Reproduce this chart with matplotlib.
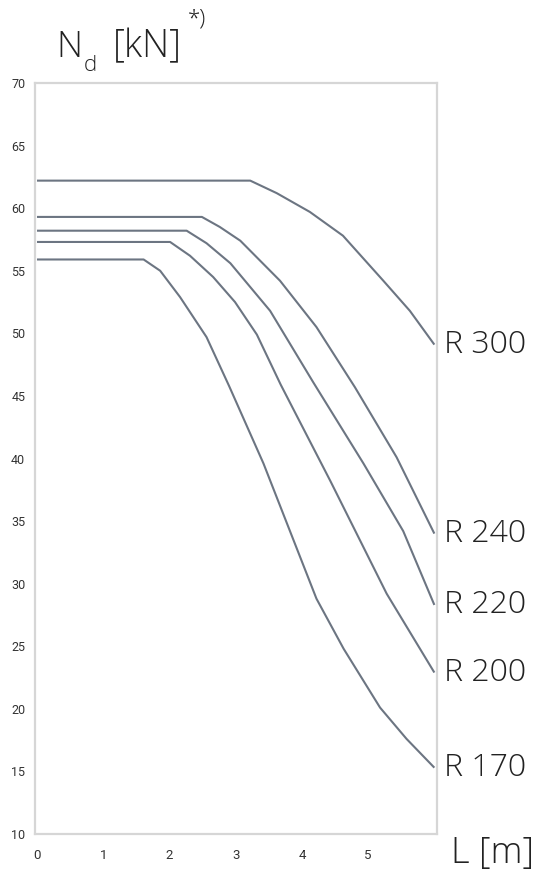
import matplotlib
matplotlib.use("Agg")
import matplotlib.pyplot as plt

plt.rcParams['font.family'] = ['Open Sans', 'DejaVu Sans']

# Data
labels = ["R 300", "R 240", "R 220", "R 200", "R 170"]
L_r300 = [0, 3.22, 3.62, 4.12, 4.62, 5.23, 5.63, 6.0]
N_r300 = [62.2, 62.2, 61.2, 59.7, 57.8, 54.2, 51.8, 49.1]
L_r240 = [0, 2.49, 2.76, 3.07, 3.67, 4.22, 4.8, 5.43, 6.0]
N_r240 = [59.3, 59.3, 58.5, 57.4, 54.2, 50.5, 45.7, 40.1, 34.0]
L_r220 = [0, 2.26, 2.56, 2.92, 3.52, 4.17, 4.93, 5.53, 6.0]
N_r220 = [58.2, 58.2, 57.2, 55.6, 51.8, 46.1, 39.6, 34.2, 28.3]
L_r200 = [0, 2.01, 2.31, 2.66, 2.99, 3.32, 3.68, 4.43, 5.28, 6.0]
N_r200 = [57.3, 57.3, 56.2, 54.5, 52.5, 49.9, 45.9, 38.2, 29.2, 22.9]
L_r170 = [0, 1.61, 1.86, 2.16, 2.56, 2.9, 3.42, 3.82, 4.22, 4.63, 5.18, 5.58, 6.0]
N_r170 = [55.9, 55.9, 55.0, 52.9, 49.7, 45.8, 39.6, 34.2, 28.8, 24.8, 20.1, 17.6, 15.3]
x_ticks = [0, 1, 2, 3, 4, 5]
y_ticks = [10, 15, 20, 25, 30, 35, 40, 45, 50, 55, 60, 65, 70]

series = [(L_r300, N_r300), (L_r240, N_r240), (L_r220, N_r220),
          (L_r200, N_r200), (L_r170, N_r170)]

W, H = 537, 873
fig = plt.figure(figsize=(W / 100, H / 100), dpi=100)
ax = fig.add_axes([35 / W, 1 - 834 / H, (437 - 35) / W, (834 - 83) / H])

line_color = "#6c7582"
text_color = "#222222"
for (xs, ys), lab in zip(series, labels):
    ax.plot(xs, ys, color=line_color, lw=1.5, solid_capstyle="butt",
            solid_joinstyle="round")
    ax.annotate(lab, xy=(xs[-1], ys[-1]), xytext=(7, 0),
                textcoords="offset points", va="center", ha="left",
                fontsize=23, fontweight="light", color=text_color,
                annotation_clip=False)

ax.set_xlim(-0.03, 6.04)
ax.set_ylim(10, 70)
ax.set_xticks(x_ticks)
ax.set_yticks(y_ticks)
ax.tick_params(axis="both", length=0, colors="#333333")
ax.tick_params(axis="y", pad=7, labelsize=9)
ax.tick_params(axis="x", pad=11, labelsize=9.5)
for lbl in ax.get_xticklabels() + ax.get_yticklabels():
    lbl.set_family(["Roboto", "DejaVu Sans"])
for s in ax.spines.values():
    s.set_color("#d6d6d6")
    s.set_linewidth(1.6)

# Axis titles
big = dict(color=text_color, fontweight="light", ha="left")
fig.text(56 / W, 1 - 57 / H, "N", fontsize=26, va="baseline", **big)
fig.text(84 / W, 1 - 71 / H, "d", fontsize=16, va="baseline", **big)
fig.text(113 / W, 1 - 57 / H, "[kN]", fontsize=27, va="baseline", **big)
fig.text(188 / W, 1 - 8 / H, "*)", fontsize=16, va="top", **big)
fig.text(451 / W, 1 - 863 / H, "L [m]", fontsize=26, va="baseline", **big)

fig.savefig("out.png", dpi=100, facecolor="white")
